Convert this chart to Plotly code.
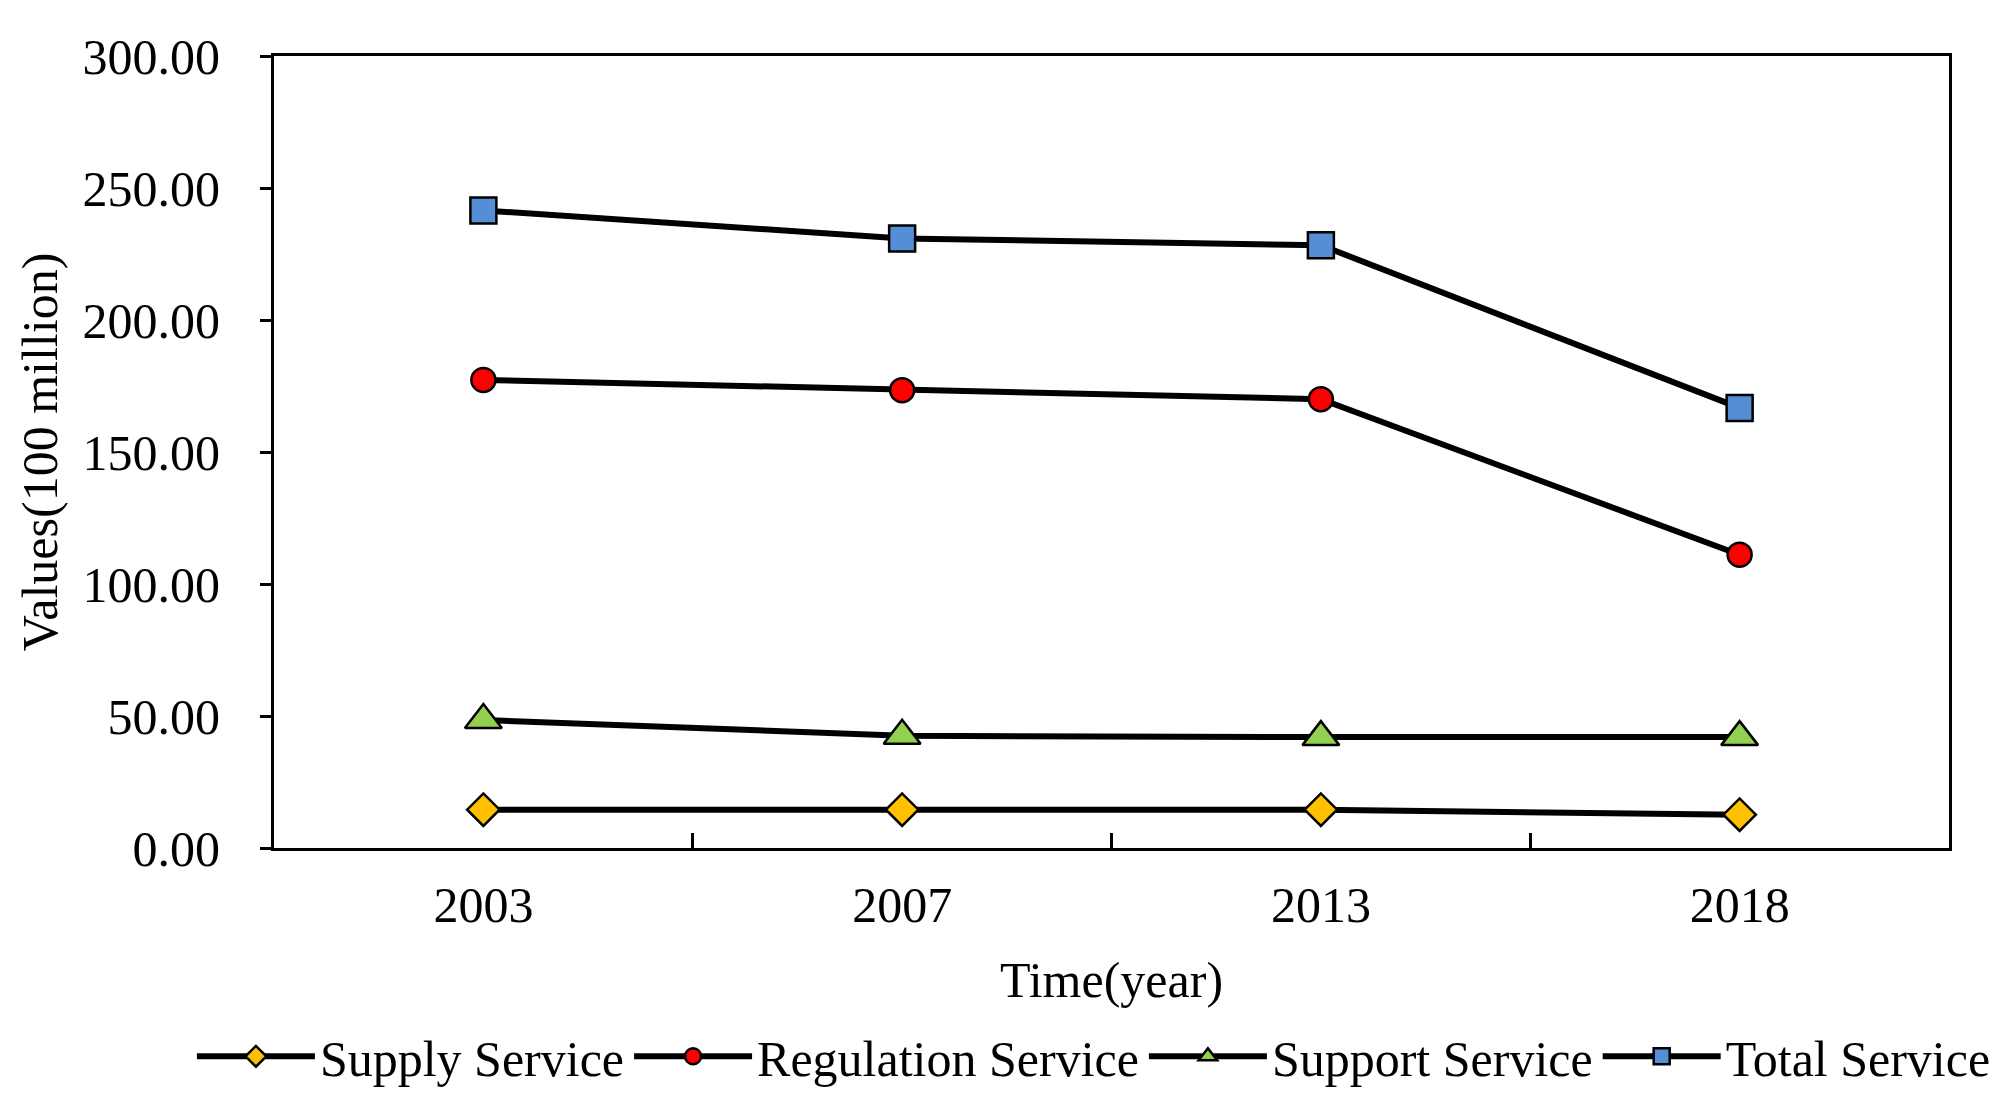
import plotly.graph_objects as go

years = ["2003", "2007", "2013", "2018"]
supply = [14.5, 14.5, 14.5, 12.6]
regulation = [177.3, 173.4, 170.0, 111.1]
support = [48.5, 42.5, 42.0, 42.0]
total = [241.5, 230.9, 228.3, 166.7]
y_ticks = [0, 50, 100, 150, 200, 250, 300]

FONT = "Liberation Serif, Times New Roman, serif"

series = [
    ("Supply Service", supply, "diamond", "#FFC000", 25),
    ("Regulation Service", regulation, "circle", "#FF0000", 24),
    ("Support Service", support, "triangle-up", "#92D050", 32),
    ("Total Service", total, "square", "#558ED5", 26),
]

fig = go.Figure()
for name, vals, sym, col, sz in series:
    fig.add_trace(go.Scatter(
        x=years, y=vals, name=name, mode="lines+markers",
        line=dict(color="black", width=6),
        marker=dict(symbol=sym, color=col, size=sz, line=dict(color="black", width=2.5)),
    ))

fig.update_layout(
    width=2005, height=1112,
    margin=dict(l=266, r=64, t=48, b=272),
    paper_bgcolor="white", plot_bgcolor="white",
    font=dict(family=FONT, size=50, color="black"),
    legend=dict(orientation="h", x=-0.049, xanchor="left", y=-0.263, yanchor="middle",
                font=dict(size=50), itemwidth=118, bgcolor="rgba(0,0,0,0)"),
    showlegend=True,
)
fig.update_xaxes(
    type="category", range=[-0.5, 3.5],
    showline=True, linecolor="black", linewidth=3, mirror=True,
    ticks="inside", tickson="boundaries", ticklen=15, tickwidth=3, tickcolor="black",
    showgrid=False, zeroline=False, automargin=True,
    ticklabelstandoff=11,
    title=dict(text="Time(year)", font=dict(size=50), standoff=30),
    tickfont=dict(size=50),
)
fig.update_yaxes(
    range=[0, 300], tickvals=y_ticks, tickformat=".2f",
    showline=True, linecolor="black", linewidth=3, mirror=True,
    ticks="outside", ticklen=11, tickwidth=3, tickcolor="black",
    showgrid=False, zeroline=False, automargin=True,
    ticklabelstandoff=30,
    title=dict(text="Values(100 million)", font=dict(size=50), standoff=10),
    tickfont=dict(size=50),
)

fig.write_html("out.html")
